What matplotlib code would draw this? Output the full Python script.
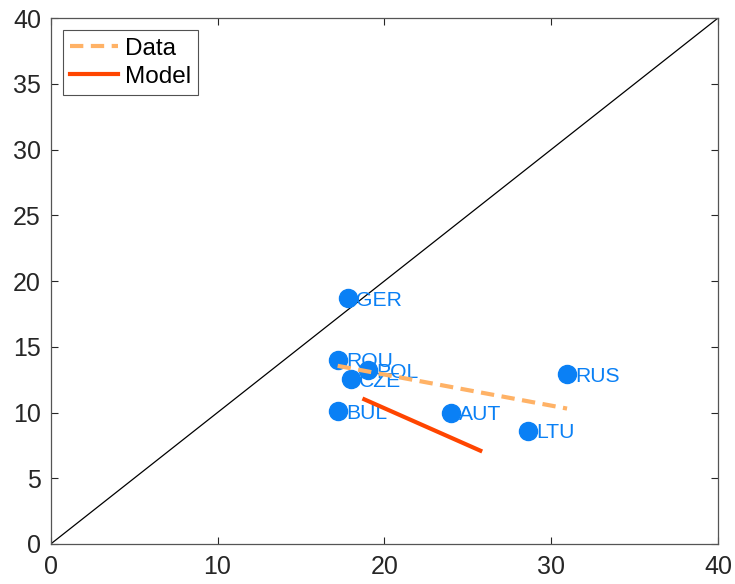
import matplotlib
matplotlib.use("Agg")
import matplotlib.pyplot as plt

plt.rcParams['font.family'] = ['Liberation Sans', 'DejaVu Sans']

countries = ["GER", "ROU", "POL", "CZE", "BUL", "AUT", "LTU", "RUS"]
x_vals = [17.8, 17.2, 19.0, 18.0, 17.2, 24.0, 28.6, 30.95]
y_vals = [18.7, 14.0, 13.2, 12.55, 10.1, 10.0, 8.6, 12.9]

data_line_x = [17.2, 30.95]
data_line_y = [13.55, 10.3]
model_line_x = [18.8, 25.75]
model_line_y = [11.0, 7.1]

diag = [0, 40]
ticks = [0, 10, 20, 30, 40]
yticks = [0, 5, 10, 15, 20, 25, 30, 35, 40]

blue = '#0A80F5'
fig = plt.figure(figsize=(7.35, 5.84), dpi=100)
ax = fig.add_axes([0.069, 0.0685, 0.9079, 0.9006])

ax.plot(diag, diag, color='black', lw=0.9, zorder=1)
ax.plot(x_vals, y_vals, 'o', color=blue, markersize=13, zorder=2)
for c, xv, yv in zip(countries, x_vals, y_vals):
    ax.annotate(c, (xv, yv), xytext=(6, -1.5), textcoords='offset points',
                ha='left', va='center', color=blue, fontsize=15.2, zorder=3)
ax.plot(data_line_x, data_line_y, color='#FFB266', lw=3, ls=(0, (3.2, 1.8)),
        label='Data', zorder=4)
ax.plot(model_line_x, model_line_y, color='#FF4500', lw=3, label='Model', zorder=4)

ax.set_xlim(0, 40)
ax.set_ylim(0, 40)
ax.set_xticks(ticks)
ax.set_yticks(yticks)
ax.tick_params(direction='in', length=5, width=0.8, colors='#262626',
               labelsize=18, top=True, right=True)
ax.tick_params(axis='x', pad=8)
ax.tick_params(axis='y', pad=7)
for s in ax.spines.values():
    s.set_color('#555555')
    s.set_linewidth(0.9)

leg = ax.legend(loc='upper left', fontsize=17.5, handlelength=1.95,
                frameon=True, fancybox=False, borderpad=0.3,
                labelspacing=0.25, handletextpad=0.3, borderaxespad=0.5)
leg.get_frame().set_edgecolor('#262626')
leg.get_frame().set_linewidth(0.8)

fig.savefig('out.png', dpi=100)
